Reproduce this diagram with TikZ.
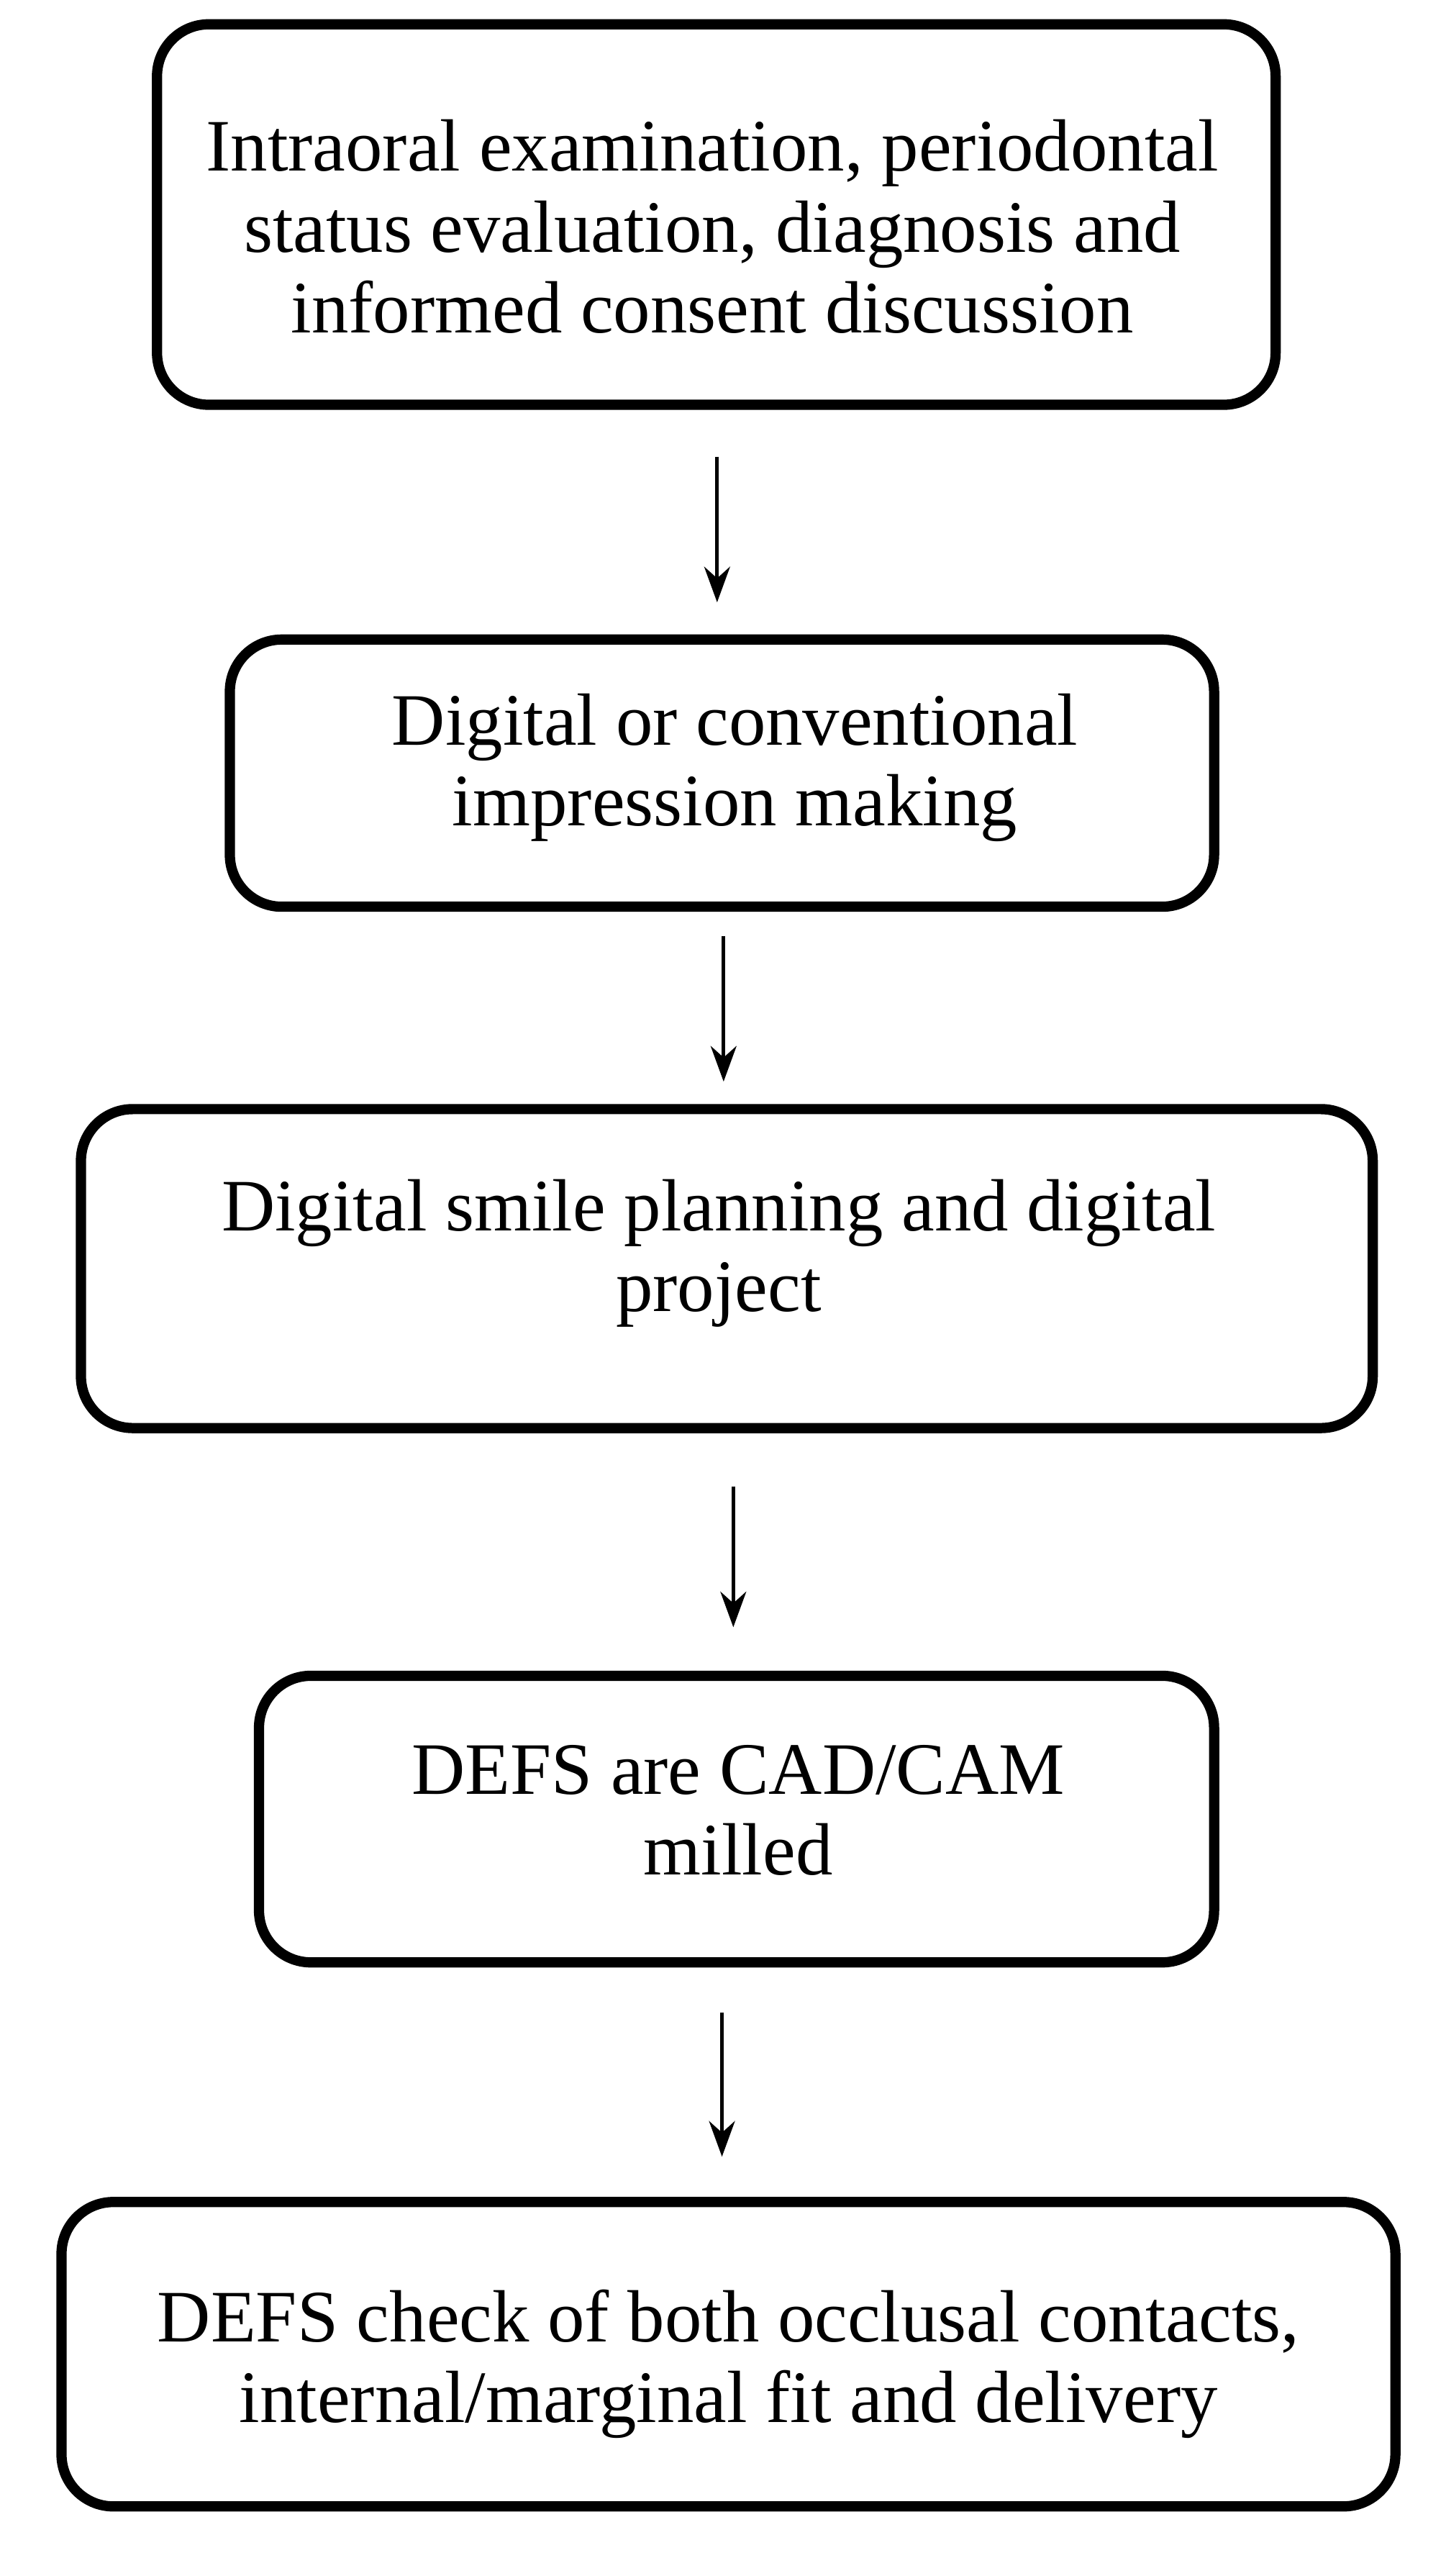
\documentclass[tikz,border=0pt]{standalone}
\usepackage{fontspec}
\setmainfont{Liberation Serif}
\usetikzlibrary{arrows.meta}
\begin{document}
\begin{tikzpicture}[x=0.05cm,y=-0.05cm,
  box/.style={draw,line width=9pt,rounded corners=1.6cm},
  txt/.style={align=center,font=\fontsize{65}{71}\selectfont},
  arr/.style={line width=3pt,-{Stealth[length=1.1cm,width=0.8cm]}}]
\useasboundingbox (0,0) rectangle (893,1591);
\draw[box] (97,15) rectangle (788,250);
\node[txt] (n1) at (440,140) {Intraoral examination, periodontal\\status evaluation, diagnosis and\\informed consent discussion};
\draw[box] (142,395) rectangle (750,560);
\node[txt] (n2) at (454,474) {Digital or conventional\\impression making};
\draw[box] (50,685) rectangle (848,882);
\node[txt] (n3) at (444,774) {Digital smile planning and digital\\project};
\draw[box] (160,1035) rectangle (750,1212);
\node[txt] (n4) at (456,1118) {DEFS are CAD/CAM\\milled};
\draw[box] (38,1360) rectangle (862,1548);
\node[txt] (n5) at (450,1460) {DEFS check of both occlusal contacts,\\internal/marginal fit and delivery};
\coordinate (a1) at (443,282); \coordinate (b1) at (443,372);
\coordinate (a2) at (447,578); \coordinate (b2) at (447,668);
\coordinate (a3) at (453,918); \coordinate (b3) at (453,1005);
\coordinate (a4) at (446,1243); \coordinate (b4) at (446,1332);
\draw[arr] (a1) -- (b1);
\draw[arr] (a2) -- (b2);
\draw[arr] (a3) -- (b3);
\draw[arr] (a4) -- (b4);
\end{tikzpicture}
\end{document}
